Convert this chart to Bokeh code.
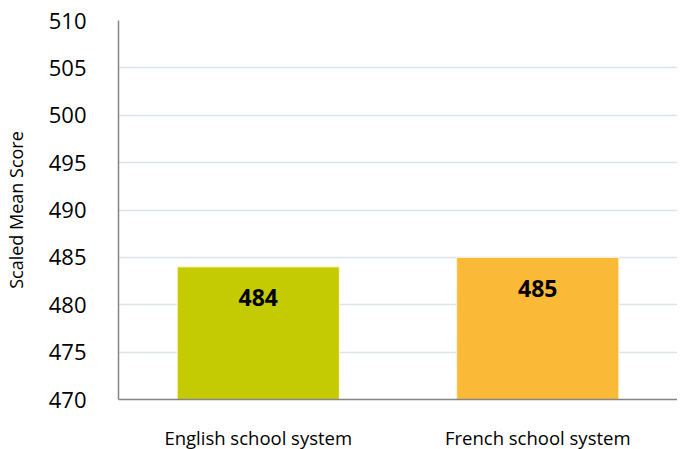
from bokeh.plotting import figure
from bokeh.models import ColumnDataSource, FixedTicker, Range1d
from bokeh.core.properties import value
from bokeh.embed import file_html
from bokeh.resources import INLINE

categories = ["English school system", "French school system"]
scores = [484.0, 485.0]
labels = ["484", "485"]
colors = ["#C5CB03", "#FBB938"]
y_ticks = [470, 475, 480, 485, 490, 495, 500, 505, 510]

src = ColumnDataSource(dict(cat=categories, score=scores, label=labels, color=colors))

p = figure(x_range=categories, y_range=Range1d(470, 510), width=677, height=452,
           output_backend="svg", toolbar_location=None,
           min_border_left=110, min_border_right=0, min_border_top=20, min_border_bottom=50)

p.vbar(x="cat", top="score", bottom=470, width=0.58, fill_color="color",
       line_color="#fff6d8", line_width=1, source=src)
p.text(x="cat", y="score", text="label", source=src, text_align="center",
       text_baseline="middle", y_offset=31, text_font=value("Open Sans"),
       text_font_style="bold", text_font_size="23px", text_color="#000000")

p.outline_line_color = None
p.xgrid.grid_line_color = None
p.ygrid.grid_line_color = "#DCE5EA"
p.ygrid.grid_line_width = 1.5
p.yaxis.ticker = FixedTicker(ticks=y_ticks)

for ax in (p.xaxis, p.yaxis):
    ax.axis_line_color = "#858585"
    ax.axis_line_width = 1.5
    ax.major_tick_line_color = None
    ax.minor_tick_line_color = None
    ax.major_label_text_font = "Open Sans"
    ax.major_label_text_color = "#000000"
    ax.axis_label_text_font = "Open Sans"
    ax.axis_label_text_color = "#000000"

p.yaxis.major_label_text_font_size = "22px"
p.yaxis.major_label_standoff = 26
p.yaxis.axis_label = "Scaled Mean Score"
p.yaxis.axis_label_text_font_size = "18px"
p.yaxis.axis_label_text_font_style = "normal"
p.yaxis.axis_label_standoff = 18
p.xaxis.major_label_text_font_size = "18.5px"
p.xaxis.major_label_standoff = 19
p.x_range.range_padding = 0

open("out.html", "w").write(file_html(p, INLINE))
